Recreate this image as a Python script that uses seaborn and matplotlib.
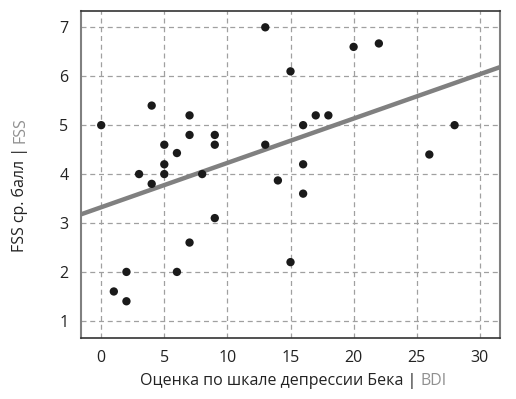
import matplotlib
matplotlib.use("Agg")
import matplotlib.pyplot as plt
import seaborn as sns
import numpy as np
import pandas as pd

bdi = [0, 1, 2, 2, 3, 4, 4, 5, 5, 5, 6, 6, 7, 7, 7, 8, 9, 9, 9,
       13, 13, 14, 15, 15, 16, 16, 16, 17, 18, 20, 22, 26, 28]
fss = [5.0, 1.6, 2.0, 1.4, 4.0, 5.4, 3.8, 4.6, 4.2, 4.0, 4.43, 2.0, 5.2, 4.8, 2.6, 4.0, 4.8, 4.6, 3.1,
       7.0, 4.6, 3.87, 6.1, 2.2, 5.0, 4.2, 3.6, 5.2, 5.2, 6.6, 6.67, 4.4, 5.0]
xticks = [0, 5, 10, 15, 20, 25, 30]
yticks = [1, 2, 3, 4, 5, 6, 7]

df = pd.DataFrame({"bdi": bdi, "fss": fss})

sns.set_style("white")
plt.rcParams['font.family'] = ['Open Sans', 'DejaVu Sans']

fig = plt.figure(figsize=(5.16, 3.99), dpi=100)
ax = fig.add_axes([0.157, 0.153, 0.812, 0.819])
ax.set_xlim(-1.6, 31.6)
ax.set_ylim(0.65, 7.33)

sns.regplot(data=df, x="bdi", y="fss", ax=ax, ci=None, truncate=False,
            scatter_kws=dict(s=36, color="#1a1a1a", edgecolor="none", alpha=1, zorder=3),
            line_kws=dict(color="#808080", lw=3.2, zorder=2))

ax.set_xlim(-1.6, 31.6)
ax.set_ylim(0.65, 7.33)
ax.set_xticks(xticks)
ax.set_yticks(yticks)
ax.grid(True, linestyle=(0, (4, 3)), color="#a0a0a0", lw=0.9)
ax.set_axisbelow(True)
ax.tick_params(axis="both", length=5, width=0.9, color="#a0a0a0", labelsize=11.5,
               labelcolor="#222222", pad=4)
ax.set_xlabel("")
ax.set_ylabel("")
for s in ["left", "right"]:
    ax.spines[s].set_color("#808080")
    ax.spines[s].set_linewidth(1.5)
for s in ["top", "bottom"]:
    ax.spines[s].set_color("#333333")
    ax.spines[s].set_linewidth(1.2)

# multi-colour labels
fig.canvas.draw()
r = fig.canvas.get_renderer()
fs = 11.5
t1 = fig.text(0, 0, "Оценка по шкале депрессии Бека | ", fontsize=fs, color="#222222")
t2 = fig.text(0, 0, "BDI", fontsize=fs, color="#909090")
w1 = t1.get_window_extent(r).width
w2 = t2.get_window_extent(r).width
cx = 0.568 * 516
yb = 399 - 385
t1.set_position(((cx - (w1 + w2) / 2) / 516, yb / 399))
t2.set_position(((cx - (w1 + w2) / 2 + w1) / 516, yb / 399))

u1 = fig.text(0, 0, "FSS ср. балл | ", fontsize=fs, color="#222222", rotation=90)
u2 = fig.text(0, 0, "FSS", fontsize=fs, color="#909090", rotation=90)
h1 = u1.get_window_extent(r).height
h2 = u2.get_window_extent(r).height
cy = 399 - 181
xl = 12
u1.set_position((xl / 516, (cy - (h1 + h2) / 2) / 399))
u2.set_position((xl / 516, (cy - (h1 + h2) / 2 + h1) / 399))

fig.savefig("out.png", dpi=100)
